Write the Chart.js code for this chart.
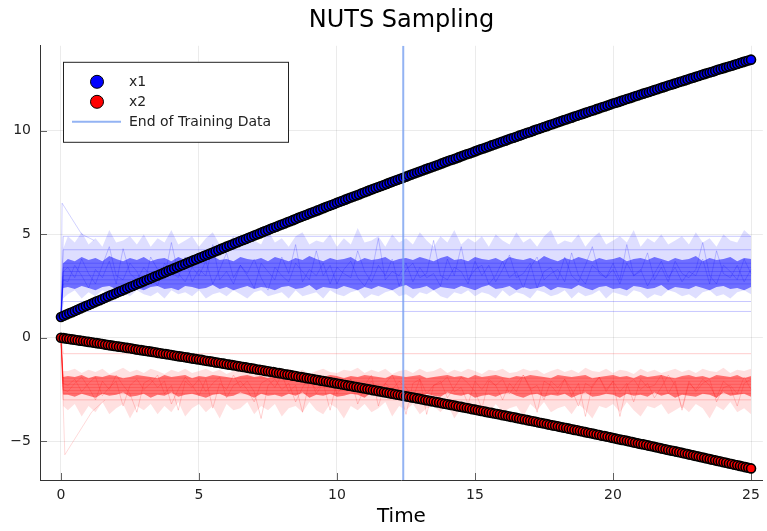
<!DOCTYPE html>
<html>
<head>
<meta charset="utf-8">
<title>NUTS Sampling</title>
<script src="https://cdn.jsdelivr.net/npm/chart.js@4/dist/chart.umd.min.js"></script>
<style>
  html, body { margin: 0; padding: 0; background: #fff; }
  #wrap { width: 767px; height: 531px; }
</style>
</head>
<body>
<div id="wrap"><canvas id="chart" width="767" height="531"></canvas></div>
<script>
// NUTS sampling: data trajectories x1, x2 plus the band of posterior sample paths

const seriesNames = ['x1', 'x2', 'End of Training Data'];
const trainEnd = 12.4;

const xTicks = [0, 5, 10, 15, 20, 25];
const yTicks = [-5, 0, 5, 10];
const xMin = -0.76, xMax = 25.43;
const yMin = -6.87, yMax = 14.1;

// observed data (saveat 0.1)
const times = [
  0, 0.1, 0.2, 0.3, 0.4, 0.5, 0.6, 0.7, 0.8, 0.9,
  1, 1.1, 1.2, 1.3, 1.4, 1.5, 1.6, 1.7, 1.8, 1.9,
  2, 2.1, 2.2, 2.3, 2.4, 2.5, 2.6, 2.7, 2.8, 2.9,
  3, 3.1, 3.2, 3.3, 3.4, 3.5, 3.6, 3.7, 3.8, 3.9,
  4, 4.1, 4.2, 4.3, 4.4, 4.5, 4.6, 4.7, 4.8, 4.9,
  5, 5.1, 5.2, 5.3, 5.4, 5.5, 5.6, 5.7, 5.8, 5.9,
  6, 6.1, 6.2, 6.3, 6.4, 6.5, 6.6, 6.7, 6.8, 6.9,
  7, 7.1, 7.2, 7.3, 7.4, 7.5, 7.6, 7.7, 7.8, 7.9,
  8, 8.1, 8.2, 8.3, 8.4, 8.5, 8.6, 8.7, 8.8, 8.9,
  9, 9.1, 9.2, 9.3, 9.4, 9.5, 9.6, 9.7, 9.8, 9.9,
  10, 10.1, 10.2, 10.3, 10.4, 10.5, 10.6, 10.7, 10.8, 10.9,
  11, 11.1, 11.2, 11.3, 11.4, 11.5, 11.6, 11.7, 11.8, 11.9,
  12, 12.1, 12.2, 12.3, 12.4, 12.5, 12.6, 12.7, 12.8, 12.9,
  13, 13.1, 13.2, 13.3, 13.4, 13.5, 13.6, 13.7, 13.8, 13.9,
  14, 14.1, 14.2, 14.3, 14.4, 14.5, 14.6, 14.7, 14.8, 14.9,
  15, 15.1, 15.2, 15.3, 15.4, 15.5, 15.6, 15.7, 15.8, 15.9,
  16, 16.1, 16.2, 16.3, 16.4, 16.5, 16.6, 16.7, 16.8, 16.9,
  17, 17.1, 17.2, 17.3, 17.4, 17.5, 17.6, 17.7, 17.8, 17.9,
  18, 18.1, 18.2, 18.3, 18.4, 18.5, 18.6, 18.7, 18.8, 18.9,
  19, 19.1, 19.2, 19.3, 19.4, 19.5, 19.6, 19.7, 19.8, 19.9,
  20, 20.1, 20.2, 20.3, 20.4, 20.5, 20.6, 20.7, 20.8, 20.9,
  21, 21.1, 21.2, 21.3, 21.4, 21.5, 21.6, 21.7, 21.8, 21.9,
  22, 22.1, 22.2, 22.3, 22.4, 22.5, 22.6, 22.7, 22.8, 22.9,
  23, 23.1, 23.2, 23.3, 23.4, 23.5, 23.6, 23.7, 23.8, 23.9,
  24, 24.1, 24.2, 24.3, 24.4, 24.5, 24.6, 24.7, 24.8, 24.9,
  25
];

const x1 = [
  1.00, 1.06, 1.12, 1.18, 1.23, 1.29, 1.35, 1.41, 1.47, 1.53,
  1.58, 1.64, 1.70, 1.76, 1.81, 1.87, 1.93, 1.99, 2.05, 2.10,
  2.16, 2.22, 2.27, 2.33, 2.39, 2.45, 2.50, 2.56, 2.62, 2.67,
  2.73, 2.79, 2.84, 2.90, 2.96, 3.01, 3.07, 3.12, 3.18, 3.24,
  3.29, 3.35, 3.40, 3.46, 3.51, 3.57, 3.63, 3.68, 3.74, 3.79,
  3.85, 3.90, 3.96, 4.01, 4.07, 4.12, 4.18, 4.23, 4.29, 4.34,
  4.40, 4.45, 4.50, 4.56, 4.61, 4.67, 4.72, 4.77, 4.83, 4.88,
  4.94, 4.99, 5.04, 5.10, 5.15, 5.20, 5.26, 5.31, 5.36, 5.42,
  5.47, 5.52, 5.58, 5.63, 5.68, 5.73, 5.79, 5.84, 5.89, 5.94,
  6.00, 6.05, 6.10, 6.15, 6.20, 6.26, 6.31, 6.36, 6.41, 6.46,
  6.52, 6.57, 6.62, 6.67, 6.72, 6.77, 6.82, 6.87, 6.92, 6.98,
  7.03, 7.08, 7.13, 7.18, 7.23, 7.28, 7.33, 7.38, 7.43, 7.48,
  7.53, 7.58, 7.63, 7.68, 7.73, 7.78, 7.83, 7.88, 7.93, 7.98,
  8.03, 8.08, 8.13, 8.18, 8.22, 8.27, 8.32, 8.37, 8.42, 8.47,
  8.52, 8.57, 8.61, 8.66, 8.71, 8.76, 8.81, 8.86, 8.90, 8.95,
  9.00, 9.05, 9.10, 9.14, 9.19, 9.24, 9.29, 9.33, 9.38, 9.43,
  9.48, 9.52, 9.57, 9.62, 9.66, 9.71, 9.76, 9.80, 9.85, 9.90,
  9.94, 9.99, 10.04, 10.08, 10.13, 10.18, 10.22, 10.27, 10.31, 10.36,
  10.41, 10.45, 10.50, 10.54, 10.59, 10.63, 10.68, 10.72, 10.77, 10.81,
  10.86, 10.90, 10.95, 10.99, 11.04, 11.08, 11.13, 11.17, 11.22, 11.26,
  11.31, 11.35, 11.39, 11.44, 11.48, 11.53, 11.57, 11.61, 11.66, 11.70,
  11.75, 11.79, 11.83, 11.87, 11.92, 11.96, 12.00, 12.05, 12.09, 12.13,
  12.18, 12.22, 12.26, 12.30, 12.35, 12.39, 12.43, 12.47, 12.52, 12.56,
  12.60, 12.64, 12.69, 12.73, 12.77, 12.81, 12.85, 12.89, 12.94, 12.98,
  13.02, 13.06, 13.10, 13.14, 13.18, 13.22, 13.27, 13.31, 13.35, 13.39,
  13.43
];

const x2 = [
  0, -0.02, -0.04, -0.06, -0.08, -0.10, -0.12, -0.14, -0.16, -0.18,
  -0.20, -0.22, -0.24, -0.26, -0.28, -0.30, -0.33, -0.35, -0.37, -0.39,
  -0.41, -0.43, -0.45, -0.47, -0.49, -0.51, -0.53, -0.56, -0.58, -0.60,
  -0.62, -0.64, -0.66, -0.68, -0.70, -0.73, -0.75, -0.77, -0.79, -0.81,
  -0.83, -0.86, -0.88, -0.90, -0.92, -0.94, -0.96, -0.99, -1.01, -1.03,
  -1.05, -1.07, -1.10, -1.12, -1.14, -1.16, -1.19, -1.21, -1.23, -1.25,
  -1.28, -1.30, -1.32, -1.34, -1.37, -1.39, -1.41, -1.43, -1.46, -1.48,
  -1.50, -1.53, -1.55, -1.57, -1.60, -1.62, -1.64, -1.66, -1.69, -1.71,
  -1.73, -1.76, -1.78, -1.80, -1.83, -1.85, -1.88, -1.90, -1.92, -1.95,
  -1.97, -1.99, -2.02, -2.04, -2.07, -2.09, -2.11, -2.14, -2.16, -2.19,
  -2.21, -2.23, -2.26, -2.28, -2.31, -2.33, -2.36, -2.38, -2.40, -2.43,
  -2.45, -2.48, -2.50, -2.53, -2.55, -2.58, -2.60, -2.63, -2.65, -2.68,
  -2.70, -2.73, -2.75, -2.78, -2.80, -2.83, -2.85, -2.88, -2.90, -2.93,
  -2.95, -2.98, -3.01, -3.03, -3.06, -3.08, -3.11, -3.13, -3.16, -3.19,
  -3.21, -3.24, -3.26, -3.29, -3.32, -3.34, -3.37, -3.39, -3.42, -3.45,
  -3.47, -3.50, -3.53, -3.55, -3.58, -3.61, -3.63, -3.66, -3.68, -3.71,
  -3.74, -3.76, -3.79, -3.82, -3.84, -3.87, -3.90, -3.93, -3.95, -3.98,
  -4.01, -4.03, -4.06, -4.09, -4.12, -4.14, -4.17, -4.20, -4.23, -4.25,
  -4.28, -4.31, -4.34, -4.36, -4.39, -4.42, -4.45, -4.47, -4.50, -4.53,
  -4.56, -4.59, -4.61, -4.64, -4.67, -4.70, -4.73, -4.75, -4.78, -4.81,
  -4.84, -4.87, -4.90, -4.93, -4.95, -4.98, -5.01, -5.04, -5.07, -5.10,
  -5.13, -5.15, -5.18, -5.21, -5.24, -5.27, -5.30, -5.33, -5.36, -5.39,
  -5.42, -5.45, -5.47, -5.50, -5.53, -5.56, -5.59, -5.62, -5.65, -5.68,
  -5.71, -5.74, -5.77, -5.80, -5.83, -5.86, -5.89, -5.92, -5.95, -5.98,
  -6.01, -6.04, -6.07, -6.10, -6.13, -6.16, -6.19, -6.22, -6.25, -6.28,
  -6.31
];

// sample band: time grid of the envelopes and traces
const bandTimes = [
  0, 0.08,
  0.25, 0.5, 0.75, 1, 1.25, 1.5, 1.75, 2, 2.25, 2.5,
  2.75, 3, 3.25, 3.5, 3.75, 4, 4.25, 4.5, 4.75, 5,
  5.25, 5.5, 5.75, 6, 6.25, 6.5, 6.75, 7, 7.25, 7.5,
  7.75, 8, 8.25, 8.5, 8.75, 9, 9.25, 9.5, 9.75, 10,
  10.25, 10.5, 10.75, 11, 11.25, 11.5, 11.75, 12, 12.25, 12.5,
  12.75, 13, 13.25, 13.5, 13.75, 14, 14.25, 14.5, 14.75, 15,
  15.25, 15.5, 15.75, 16, 16.25, 16.5, 16.75, 17, 17.25, 17.5,
  17.75, 18, 18.25, 18.5, 18.75, 19, 19.25, 19.5, 19.75, 20,
  20.25, 20.5, 20.75, 21, 21.25, 21.5, 21.75, 22, 22.25, 22.5,
  22.75, 23, 23.25, 23.5, 23.75, 24, 24.25, 24.5, 24.75, 25
];

// x1 samples: outer spread, dense core, two sample traces
const blueUpper = [
  1.0, 4.3,
  4.9, 4.6, 5.1, 4.5, 4.8, 4.4, 5.2, 4.6, 4.7, 4.9,
  4.5, 5.0, 4.4, 4.8, 4.6, 5.2, 4.5, 4.7, 4.9, 4.4,
  4.8, 5.1, 4.5, 4.6, 4.9, 4.4, 5.0, 4.7, 4.5, 5.2,
  4.6, 4.8, 4.4, 4.9, 5.1, 4.5, 4.7, 4.6, 5.0, 4.4,
  4.8, 4.5, 5.3, 4.6, 4.7, 4.9, 4.4, 5.0, 4.6, 4.8,
  4.5, 5.1, 4.7, 4.4, 4.9, 4.6, 5.2, 4.5, 4.8, 4.6,
  4.9, 4.4, 5.0, 4.7, 4.5, 5.1, 4.6, 4.8, 4.4, 4.9,
  5.2, 4.5, 4.7, 4.6, 5.0, 4.4, 4.8, 5.1, 4.5, 4.7,
  4.9, 4.6, 5.2, 4.4, 4.8, 4.6, 5.0, 4.5, 4.7, 4.9,
  4.5, 5.1, 4.6, 4.8, 4.4, 5.0, 4.7, 4.6, 5.2, 4.9
];
const blueLower = [
  1.0, 1.9,
  2.1, 2.3, 1.9, 2.2, 2.0, 2.3, 2.1, 1.9, 2.2, 2.0,
  2.3, 2.1, 2.0, 2.2, 1.9, 2.3, 2.1, 2.2, 2.0, 2.3,
  1.9, 2.1, 2.2, 2.0, 2.3, 2.1, 1.9, 2.2, 2.3, 2.0,
  2.1, 2.2, 1.9, 2.3, 2.0, 2.1, 2.2, 1.9, 2.3, 2.1,
  2.0, 2.2, 2.3, 1.9, 2.1, 2.0, 2.2, 2.3, 2.0, 2.1,
  1.9, 2.2, 2.1, 2.3, 2.0, 1.9, 2.2, 2.1, 2.3, 2.0,
  2.2, 2.1, 1.9, 2.3, 2.0, 2.2, 2.1, 1.9, 2.3, 2.2,
  2.0, 2.1, 2.3, 1.9, 2.2, 2.0, 2.1, 2.3, 1.9, 2.2,
  2.1, 2.0, 2.3, 2.2, 1.9, 2.1, 2.0, 2.3, 2.2, 2.0,
  2.1, 1.9, 2.2, 2.3, 2.0, 2.1, 1.9, 2.2, 2.3, 2.1
];
const blueCoreHi = [
  1.0, 3.6,
  3.8, 3.7, 3.9, 3.75, 3.85, 3.7, 3.95, 3.8, 3.7, 3.85,
  3.75, 3.9, 3.7, 3.8, 3.85, 3.7, 3.9, 3.75, 3.8, 3.7,
  3.85, 3.95, 3.75, 3.8, 3.7, 3.9, 3.8, 3.75, 3.85, 3.7,
  3.9, 3.8, 3.7, 3.85, 3.75, 3.95, 3.8, 3.7, 3.85, 3.75,
  3.8, 3.9, 3.7, 3.85, 3.75, 3.8, 3.9, 3.7, 3.8, 3.85,
  3.75, 3.9, 3.8, 3.7, 3.85, 3.95, 3.75, 3.8, 3.7, 3.9,
  3.8, 3.75, 3.85, 3.7, 3.9, 3.8, 3.75, 3.85, 3.7, 3.95,
  3.8, 3.7, 3.85, 3.75, 3.9, 3.8, 3.7, 3.85, 3.75, 3.8,
  3.9, 3.7, 3.8, 3.85, 3.75, 3.9, 3.8, 3.7, 3.85, 3.75,
  3.8, 3.95, 3.7, 3.85, 3.75, 3.8, 3.9, 3.7, 3.85, 3.8
];
const blueCoreLo = [
  1.0, 2.4,
  2.45, 2.35, 2.5, 2.4, 2.3, 2.45, 2.5, 2.35, 2.4, 2.55,
  2.4, 2.3, 2.45, 2.5, 2.35, 2.4, 2.3, 2.5, 2.45, 2.35,
  2.4, 2.55, 2.35, 2.45, 2.3, 2.4, 2.5, 2.35, 2.45, 2.4,
  2.3, 2.45, 2.5, 2.35, 2.4, 2.55, 2.3, 2.45, 2.4, 2.35,
  2.5, 2.4, 2.3, 2.45, 2.35, 2.5, 2.4, 2.3, 2.45, 2.55,
  2.35, 2.4, 2.5, 2.3, 2.45, 2.4, 2.35, 2.5, 2.4, 2.3,
  2.45, 2.55, 2.35, 2.4, 2.5, 2.3, 2.45, 2.35, 2.4, 2.5,
  2.3, 2.45, 2.4, 2.35, 2.55, 2.4, 2.3, 2.45, 2.5, 2.35,
  2.4, 2.3, 2.5, 2.45, 2.35, 2.4, 2.55, 2.3, 2.45, 2.4,
  2.35, 2.5, 2.4, 2.3, 2.45, 2.5, 2.35, 2.4, 2.3, 2.45
];
const blueTraceA = [
  1.0, 3.2,
  3.4, 2.9, 3.8, 3.1, 2.6, 3.5, 4.4, 3.0, 2.8, 3.6,
  3.2, 2.5, 3.9, 3.3, 2.9, 4.6, 3.1, 2.7, 3.4, 3.0,
  3.7, 2.6, 3.3, 4.1, 2.9, 3.5, 3.0, 2.4, 3.6, 3.2,
  2.8, 3.9, 3.1, 4.5, 2.7, 3.3, 3.0, 3.6, 2.6, 3.4,
  3.1, 2.9, 4.2, 3.2, 2.7, 3.5, 3.0, 3.8, 2.5, 3.3,
  3.6, 2.9, 3.1, 4.7, 3.0, 2.8, 3.4, 3.2, 2.6, 3.7,
  3.0, 3.5, 2.7, 3.3, 4.0, 2.9, 3.1, 3.6, 2.4, 3.2,
  3.4, 2.8, 3.9, 3.0, 2.7, 3.5, 4.4, 3.1, 2.9, 3.3,
  2.6, 3.6, 3.0, 3.2, 4.1, 2.8, 3.4, 2.7, 3.7, 3.1,
  2.9, 3.3, 4.6, 3.0, 2.6, 3.5, 3.2, 2.8, 3.8, 3.1
];
const blueTraceB = [
  1.0, 2.8,
  2.7, 3.5, 3.0, 2.4, 3.3, 2.9, 3.7, 2.6, 4.3, 3.1,
  2.8, 3.4, 3.0, 2.5, 3.6, 3.2, 2.9, 3.9, 2.7, 3.3,
  3.0, 4.5, 2.8, 3.2, 2.6, 3.5, 3.1, 3.8, 2.9, 2.3,
  3.4, 3.0, 2.7, 3.6, 3.2, 2.8, 4.2, 3.0, 3.5, 2.6,
  3.3, 3.7, 2.9, 2.5, 3.1, 4.8, 2.8, 3.2, 3.0, 3.6,
  2.7, 3.4, 2.9, 3.1, 2.5, 3.8, 3.0, 4.4, 2.8, 3.3,
  3.5, 2.6, 3.0, 3.7, 2.9, 3.2, 2.4, 3.4, 3.9, 2.8,
  3.1, 3.3, 2.7, 4.1, 3.0, 2.6, 3.5, 3.2, 2.9, 3.6,
  2.8, 4.5, 3.0, 3.3, 2.5, 3.1, 3.7, 2.9, 3.4, 2.7,
  3.2, 3.0, 3.8, 2.6, 4.2, 3.1, 2.9, 3.5, 2.7, 3.3
];
// nearly flat sample paths seen as thin lines
const blueLevels = [1.27, 1.75, 2.6, 2.8, 3.0, 3.2, 3.4, 3.6, 4.25, 4.9];
const blueOutlierTimes = [0, 0.04, 0.75, 1.2];
const blueOutlier = [1.0, 6.5, 5.0, 4.7];

// x2 samples
const redUpper = [
  0, -1.6,
  -1.6, -1.5, -1.7, -1.55, -1.65, -1.5, -1.75, -1.6, -1.45, -1.65,
  -1.55, -1.7, -1.5, -1.6, -1.75, -1.55, -1.65, -1.5, -1.7, -1.6,
  -1.5, -1.65, -1.55, -1.75, -1.6, -1.5, -1.7, -1.55, -1.65, -1.45,
  -1.6, -1.7, -1.5, -1.65, -1.55, -1.75, -1.6, -1.5, -1.65, -1.7,
  -1.55, -1.6, -1.45, -1.7, -1.55, -1.65, -1.5, -1.75, -1.6, -1.55,
  -1.7, -1.5, -1.65, -1.6, -1.45, -1.7, -1.55, -1.65, -1.5, -1.6,
  -1.75, -1.55, -1.6, -1.5, -1.7, -1.65, -1.5, -1.6, -1.55, -1.75,
  -1.6, -1.5, -1.65, -1.55, -1.7, -1.45, -1.6, -1.65, -1.5, -1.7,
  -1.55, -1.6, -1.75, -1.5, -1.65, -1.55, -1.7, -1.6, -1.5, -1.65,
  -1.55, -1.7, -1.5, -1.6, -1.65, -1.45, -1.7, -1.55, -1.6, -1.5
];
const redLower = [
  0, -3.3,
  -3.5, -3.2, -3.8, -3.3, -3.6, -3.1, -3.7, -3.4, -3.2, -3.9,
  -3.3, -3.5, -3.2, -3.7, -3.3, -3.6, -3.1, -3.8, -3.4, -3.2,
  -3.6, -3.3, -3.9, -3.2, -3.5, -3.4, -3.1, -3.7, -3.3, -3.5,
  -3.2, -3.8, -3.4, -3.3, -3.6, -3.1, -3.5, -3.7, -3.2, -3.4,
  -3.9, -3.3, -3.5, -3.2, -3.6, -3.4, -3.1, -3.8, -3.3, -3.5,
  -3.2, -3.7, -3.4, -3.3, -3.6, -3.2, -3.9, -3.4, -3.1, -3.5,
  -3.3, -3.7, -3.2, -3.6, -3.4, -3.3, -3.8, -3.2, -3.5, -3.1,
  -3.6, -3.4, -3.3, -3.7, -3.2, -3.5, -3.9, -3.3, -3.4, -3.2,
  -3.6, -3.1, -3.5, -3.8, -3.3, -3.4, -3.2, -3.7, -3.5, -3.3,
  -3.6, -3.2, -3.4, -3.9, -3.3, -3.5, -3.1, -3.6, -3.4, -3.7
];
const redCoreHi = [
  0, -1.9,
  -1.85, -1.9, -1.8, -1.95, -1.85, -1.9, -1.8, -1.85, -1.95, -1.9,
  -1.8, -1.85, -1.9, -1.95, -1.8, -1.9, -1.85, -1.8, -1.95, -1.85,
  -1.9, -1.8, -1.85, -1.9, -1.95, -1.85, -1.8, -1.9, -1.85, -1.95,
  -1.8, -1.9, -1.85, -1.8, -1.9, -1.95, -1.85, -1.9, -1.8, -1.85,
  -1.95, -1.85, -1.9, -1.8, -1.85, -1.9, -1.95, -1.8, -1.85, -1.9,
  -1.85, -1.8, -1.95, -1.9, -1.85, -1.8, -1.9, -1.85, -1.95, -1.8,
  -1.9, -1.85, -1.8, -1.9, -1.95, -1.85, -1.9, -1.8, -1.85, -1.9,
  -1.95, -1.8, -1.85, -1.9, -1.85, -1.8, -1.95, -1.9, -1.85, -1.8,
  -1.9, -1.85, -1.95, -1.8, -1.9, -1.85, -1.8, -1.9, -1.95, -1.85,
  -1.8, -1.9, -1.85, -1.95, -1.8, -1.85, -1.9, -1.8, -1.95, -1.85
];
const redCoreLo = [
  0, -2.75,
  -2.75, -2.85, -2.7, -2.8, -2.9, -2.7, -2.8, -2.75, -2.65, -2.85,
  -2.8, -2.7, -2.9, -2.75, -2.8, -2.65, -2.85, -2.75, -2.7, -2.8,
  -2.9, -2.75, -2.7, -2.85, -2.8, -2.65, -2.75, -2.9, -2.7, -2.8,
  -2.75, -2.85, -2.7, -2.8, -2.65, -2.9, -2.75, -2.8, -2.7, -2.85,
  -2.8, -2.7, -2.75, -2.9, -2.65, -2.8, -2.75, -2.85, -2.7, -2.8,
  -2.75, -2.9, -2.7, -2.8, -2.85, -2.65, -2.75, -2.8, -2.7, -2.9,
  -2.8, -2.75, -2.85, -2.7, -2.65, -2.8, -2.9, -2.75, -2.7, -2.85,
  -2.75, -2.8, -2.7, -2.9, -2.75, -2.65, -2.85, -2.8, -2.7, -2.75,
  -2.9, -2.7, -2.8, -2.75, -2.85, -2.65, -2.8, -2.7, -2.9, -2.75,
  -2.8, -2.85, -2.7, -2.75, -2.9, -2.65, -2.8, -2.75, -2.7, -2.85
];
const redTraceA = [
  0, -2.2,
  -2.3, -2.0, -2.6, -2.2, -1.9, -2.8, -2.4, -2.1, -3.3, -2.3,
  -2.0, -2.5, -2.2, -1.8, -2.7, -2.3, -3.5, -2.1, -2.4, -2.0,
  -2.6, -2.2, -1.9, -2.9, -2.3, -2.1, -2.5, -3.1, -2.2, -2.0,
  -2.4, -1.8, -2.6, -2.3, -3.6, -2.1, -2.5, -2.2, -1.9, -2.7,
  -2.3, -2.0, -3.2, -2.4, -2.1, -2.6, -2.2, -1.8, -2.5, -3.7,
  -2.2, -2.0, -2.7, -2.3, -2.1, -2.9, -2.4, -1.9, -2.2, -2.6,
  -3.4, -2.1, -2.3, -2.0, -2.7, -2.2, -1.8, -2.5, -2.3, -3.0,
  -2.1, -2.4, -2.0, -2.8, -2.2, -3.8, -2.3, -1.9, -2.5, -2.1,
  -2.6, -2.2, -3.1, -2.0, -2.4, -2.3, -1.8, -2.7, -2.1, -3.5,
  -2.2, -2.5, -2.0, -2.3, -2.9, -2.1, -2.4, -3.3, -2.2, -2.0
];
const redTraceB = [
  0, -2.5,
  -2.6, -2.2, -1.9, -2.4, -3.0, -2.1, -2.5, -1.8, -2.3, -2.7,
  -3.6, -2.2, -2.0, -2.4, -2.1, -3.2, -2.5, -1.9, -2.3, -2.8,
  -2.0, -3.4, -2.2, -2.5, -1.8, -2.4, -2.1, -2.6, -3.9, -2.3,
  -2.0, -2.5, -2.2, -3.1, -2.4, -1.9, -2.7, -2.2, -3.5, -2.1,
  -2.4, -2.0, -2.6, -2.3, -1.8, -3.3, -2.2, -2.5, -2.1, -2.4,
  -2.9, -2.0, -3.7, -2.3, -2.2, -1.9, -2.6, -2.4, -3.2, -2.1,
  -2.5, -2.0, -2.3, -3.0, -2.2, -2.6, -1.8, -2.4, -3.6, -2.1,
  -2.3, -2.7, -2.0, -2.5, -3.3, -2.2, -2.4, -1.9, -2.6, -2.1,
  -3.8, -2.3, -2.0, -2.5, -2.2, -2.9, -2.4, -1.8, -2.3, -3.4,
  -2.1, -2.6, -2.2, -2.0, -3.1, -2.4, -2.3, -2.7, -1.9, -2.5
];
const redLevels = [-0.77, -1.95, -2.1, -2.25, -2.4, -2.55, -2.7, -3.0];
const redOutlierTimes = [0, 0.14, 1.12, 1.6];
const redOutlier = [0, -5.65, -3.57, -3.0];

const BLUE = '0, 0, 255';
const RED = '255, 0, 0';
const VLINE = 'rgba(120, 160, 240, 0.8)';
const FONT = '"DejaVu Sans", Verdana, sans-serif';

Chart.defaults.font.family = FONT;

function pts(xs, ys) {
  return xs.map((x, i) => ({ x, y: ys[i] }));
}

function levelLine(start, level) {
  return [
    { x: bandTimes[0], y: start },
    { x: bandTimes[1], y: level },
    { x: bandTimes[bandTimes.length - 1], y: level }
  ];
}

function thin(data, rgb, alpha, extra) {
  return Object.assign({
    data,
    borderColor: `rgba(${rgb}, ${alpha})`,
    borderWidth: 1,
    pointRadius: 0,
    fill: false
  }, extra || {});
}

function area(data, rgb, alpha) {
  return {
    data,
    borderWidth: 0,
    borderColor: 'rgba(0,0,0,0)',
    pointRadius: 0,
    fill: '-1',
    backgroundColor: `rgba(${rgb}, ${alpha})`
  };
}

function edge(data) {
  return { data, borderWidth: 0, borderColor: 'rgba(0,0,0,0)', pointRadius: 0, fill: false };
}

const fmt = v => String(v).replace('-', '\u2212');

// tick marks drawn inward, like the GR backend
const innerTicks = {
  id: 'innerTicks',
  beforeDatasetsDraw(chart) {
    const { ctx, chartArea: a, scales } = chart;
    ctx.save();
    ctx.strokeStyle = 'rgba(60, 60, 60, 0.8)';
    ctx.lineWidth = 1;
    ctx.beginPath();
    for (const v of yTicks) {
      const y = Math.round(scales.y.getPixelForValue(v)) + 0.5;
      ctx.moveTo(a.left, y);
      ctx.lineTo(a.left + 7, y);
    }
    for (const v of xTicks) {
      const x = Math.round(scales.x.getPixelForValue(v)) + 0.5;
      ctx.moveTo(x, a.bottom);
      ctx.lineTo(x, a.bottom - 7);
    }
    ctx.stroke();
    ctx.restore();
  }
};

const legendBox = {
  id: 'legendBox',
  afterDraw(chart) {
    const { ctx, chartArea: a } = chart;
    const x0 = a.left + 23, y0 = a.top + 16, w = 225, h = 80;
    ctx.save();
    ctx.fillStyle = '#fff';
    ctx.fillRect(x0, y0, w, h);
    ctx.strokeStyle = '#222';
    ctx.lineWidth = 1;
    ctx.strokeRect(x0 + 0.5, y0 + 0.5, w, h);

    const marks = [`rgb(${BLUE})`, `rgb(${RED})`];
    marks.forEach((c, i) => {
      ctx.beginPath();
      ctx.arc(x0 + 34, y0 + 20 + i * 20, 6.5, 0, Math.PI * 2);
      ctx.fillStyle = c;
      ctx.fill();
      ctx.strokeStyle = '#000';
      ctx.lineWidth = 1;
      ctx.stroke();
    });
    ctx.beginPath();
    ctx.moveTo(x0 + 9, y0 + 60);
    ctx.lineTo(x0 + 58, y0 + 60);
    ctx.strokeStyle = VLINE;
    ctx.lineWidth = 2;
    ctx.stroke();

    ctx.fillStyle = '#222';
    ctx.font = '14px ' + FONT;
    ctx.textBaseline = 'middle';
    seriesNames.forEach((s, i) => ctx.fillText(s, x0 + 66, y0 + 21 + i * 20));
    ctx.restore();
  }
};

// index 0 is drawn on top
const datasets = [
  {
    data: [{ x: trainEnd, y: yMin }, { x: trainEnd, y: yMax }],
    borderColor: VLINE, borderWidth: 2, pointRadius: 0, fill: false
  },
  {
    data: pts(times, x1), showLine: false,
    pointRadius: 4.5, pointBorderWidth: 1.6,
    pointBackgroundColor: `rgb(${BLUE})`, pointBorderColor: '#000'
  },
  {
    data: pts(times, x2), showLine: false,
    pointRadius: 4.5, pointBorderWidth: 1.6,
    pointBackgroundColor: `rgb(${RED})`, pointBorderColor: '#000'
  },
  thin(pts(blueOutlierTimes, blueOutlier), BLUE, 0.18),
  thin(pts(redOutlierTimes, redOutlier), RED, 0.15),
  thin(pts(bandTimes, blueTraceA), BLUE, 0.2),
  thin(pts(bandTimes, blueTraceB), BLUE, 0.2),
  thin(pts(bandTimes, redTraceA), RED, 0.18),
  thin(pts(bandTimes, redTraceB), RED, 0.18),
  ...blueLevels.map(l => thin(levelLine(1.0, l), BLUE, 0.22)),
  ...redLevels.map(l => thin(levelLine(0, l), RED, 0.2)),
  edge(pts(bandTimes, blueCoreLo)),
  area(pts(bandTimes, blueCoreHi), BLUE, 0.5),
  edge(pts(bandTimes, redCoreLo)),
  area(pts(bandTimes, redCoreHi), RED, 0.5),
  edge(pts(bandTimes, blueLower)),
  area(pts(bandTimes, blueUpper), BLUE, 0.13),
  edge(pts(bandTimes, redLower)),
  area(pts(bandTimes, redUpper), RED, 0.12)
];

new Chart(document.getElementById('chart'), {
  type: 'line',
  data: { datasets },
  options: {
    responsive: false,
    animation: false,
    events: [],
    layout: { padding: 0, autoPadding: false },
    elements: { line: { tension: 0 } },
    plugins: {
      legend: { display: false },
      tooltip: { enabled: false },
      title: {
        display: true,
        text: 'NUTS Sampling',
        fullSize: false,
        color: '#000',
        font: { size: 24, weight: 'normal' },
        padding: { top: 6, bottom: 11 }
      }
    },
    scales: {
      x: {
        type: 'linear',
        min: xMin,
        max: xMax,
        afterBuildTicks: s => { s.ticks = xTicks.map(v => ({ value: v })); },
        afterFit: s => { s.height = 51; },
        grid: { color: 'rgba(0, 0, 0, 0.08)', drawTicks: false },
        border: { display: true, color: '#333', width: 1 },
        ticks: { padding: 7, color: '#222', font: { size: 14 }, maxRotation: 0, autoSkip: false, callback: fmt },
        title: { display: true, text: 'Time', color: '#000', font: { size: 20 }, padding: { top: 0, bottom: 2 } }
      },
      y: {
        type: 'linear',
        min: yMin,
        max: yMax,
        afterBuildTicks: s => { s.ticks = yTicks.map(v => ({ value: v })); },
        afterFit: s => { s.width = 40; },
        grid: { color: 'rgba(0, 0, 0, 0.08)', drawTicks: false },
        border: { display: true, color: '#333', width: 1 },
        ticks: { padding: 9, color: '#222', font: { size: 14 }, callback: fmt }
      }
    }
  },
  plugins: [innerTicks, legendBox]
});
</script>
</body>
</html>
